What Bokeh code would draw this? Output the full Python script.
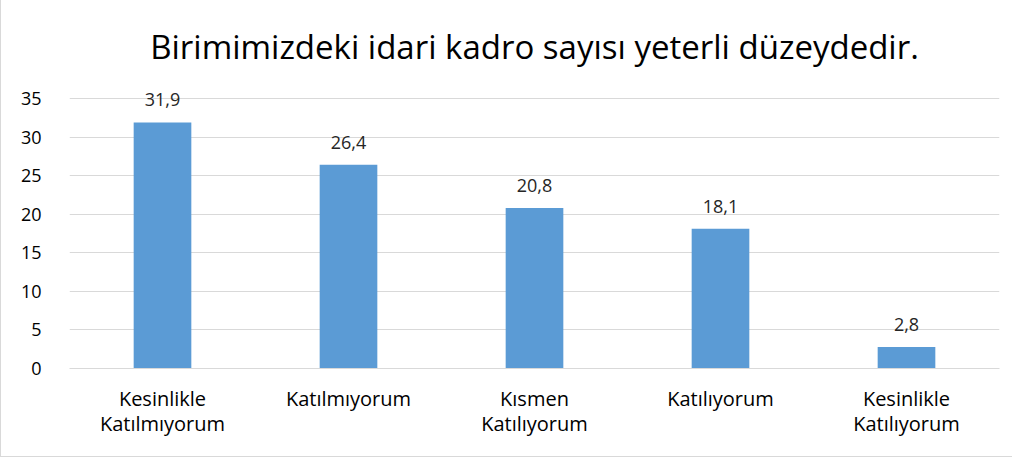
from bokeh.plotting import figure
from bokeh.models import ColumnDataSource, LabelSet, FixedTicker, Range1d
from bokeh.core.properties import value
from bokeh.embed import file_html
from bokeh.resources import INLINE

categories = ["Kesinlikle\nKatılmıyorum", "Katılmıyorum", "Kısmen\nKatılıyorum",
              "Katılıyorum", "Kesinlikle\nKatılıyorum"]
values = [31.9, 26.4, 20.8, 18.1, 2.8]
value_labels = ["31,9", "26,4", "20,8", "18,1", "2,8"]
y_ticks = [0, 5, 10, 15, 20, 25, 30, 35]
title_text = "Birimimizdeki idari kadro sayısı yeterli düzeydedir."

FONT = "Open Sans"

src = ColumnDataSource(dict(cat=categories, val=values, lab=value_labels))

p = figure(x_range=categories, y_range=Range1d(0, 38.5), width=1012, height=457,
           output_backend="svg", toolbar_location=None, title=title_text,
           min_border_left=68, min_border_right=14, min_border_bottom=89,
           min_border_top=71)

p.title.align = "center"
p.title.text_font = FONT
p.title.text_font_size = "33px"
p.title.text_font_style = "normal"
p.title.text_color = "#000000"
p.title.standoff = 5

p.vbar(x="cat", top="val", width=0.31, source=src, color="#5B9BD5", line_color=None)

labels = LabelSet(x="cat", y="val", text="lab", source=src, y_offset=16,
                  text_align="center", text_baseline="bottom",
                  text_font=value(FONT), text_font_size="18px", text_color="#262626")
p.add_layout(labels)

p.yaxis.ticker = FixedTicker(ticks=y_ticks)
p.yaxis.axis_line_color = None
p.yaxis.major_tick_line_color = None
p.yaxis.minor_tick_line_color = None
p.yaxis.major_label_text_font = FONT
p.yaxis.major_label_text_font_size = "18px"
p.yaxis.major_label_text_color = "#000000"
p.yaxis.major_label_standoff = 22

p.xaxis.axis_line_color = "#D9D9D9"
p.xaxis.axis_line_width = 1
p.xaxis.major_tick_line_color = None
p.xaxis.minor_tick_line_color = None
p.xaxis.major_label_text_font = FONT
p.xaxis.major_label_text_font_size = "20px"
p.xaxis.major_label_text_line_height = 0.95
p.xaxis.major_label_text_color = "#000000"
p.xaxis.major_label_standoff = 10

p.xgrid.grid_line_color = None
p.ygrid.grid_line_color = "#D9D9D9"
p.outline_line_color = None
p.border_fill_color = "white"
p.styles = {"border-left": "1px solid #D9D9D9", "border-bottom": "1px solid #D9D9D9"}

open("out.html", "w").write(file_html(p, INLINE))
